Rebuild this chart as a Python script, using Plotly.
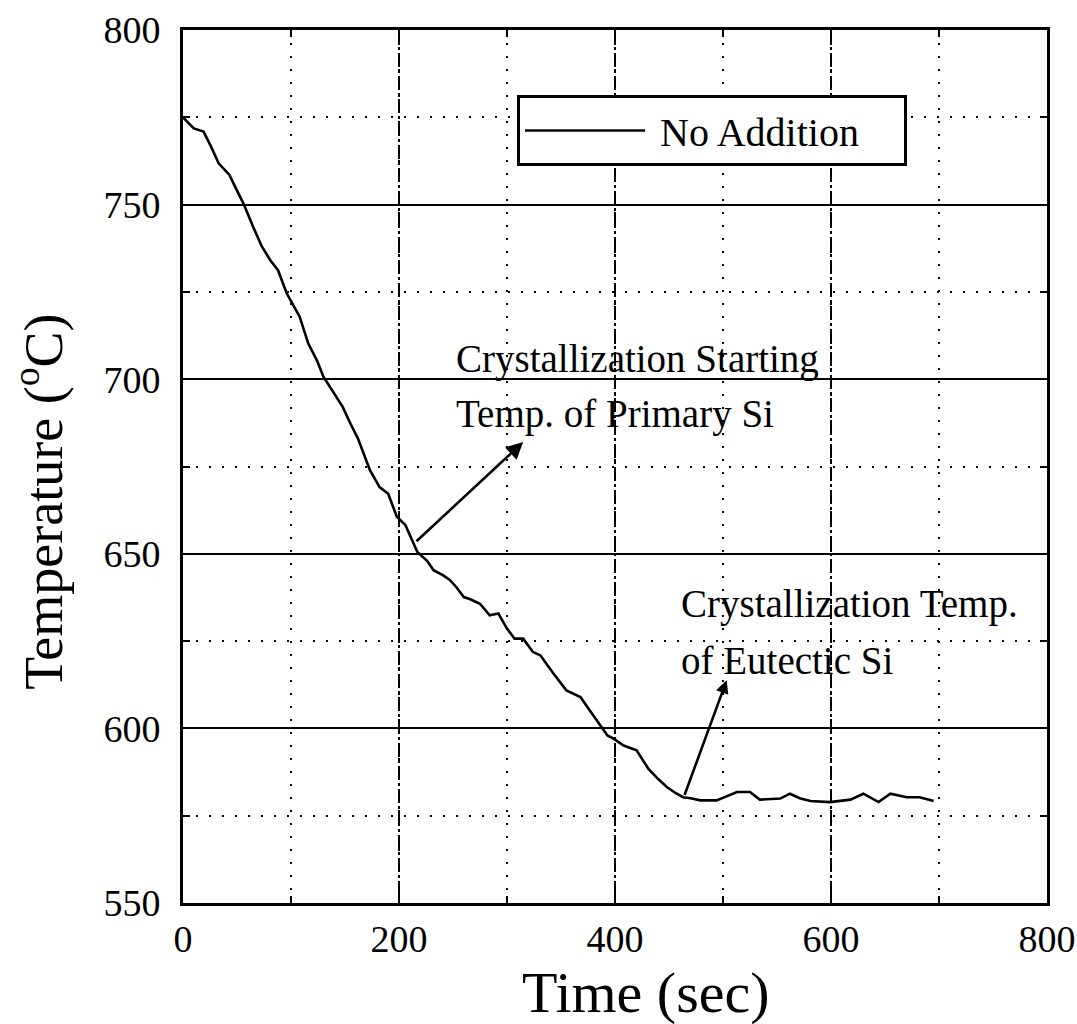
import plotly.graph_objects as go

# Data
time_sec = [0, 5, 10, 19, 26, 33, 43, 50, 56, 65, 73, 81, 88, 96, 108, 116, 124, 130,
            138, 148, 155, 162, 173, 182, 190, 198, 206, 212, 217, 226, 232, 241, 247,
            253, 260, 266, 275, 284, 292, 300, 307, 315, 324, 331, 343, 355, 368, 377,
            386, 393, 399, 408, 420, 431, 440, 448, 456, 463, 470, 479, 494, 503, 513,
            525, 534, 553, 562, 571, 581, 599, 618, 630, 637, 644, 655, 670, 682, 695]
temp_c = [775.0, 773.5, 771.8, 770.9, 766.6, 761.8, 758.5, 754.0, 750.3, 743.6, 738.0,
          734.0, 731.2, 724.6, 717.9, 710.2, 705.4, 700.7, 697.0, 692.0, 687.3, 683.0,
          674.0, 669.1, 667.2, 660.6, 658.2, 654.0, 650.5, 648.0, 645.3, 643.8, 642.5,
          640.5, 637.6, 637.0, 635.7, 632.4, 632.9, 628.6, 625.7, 625.7, 621.9, 620.9,
          615.7, 610.9, 609.0, 605.0, 600.9, 598.0, 597.0, 595.1, 593.7, 588.4, 585.5,
          583.2, 581.5, 580.3, 580.0, 579.4, 579.4, 580.5, 581.8, 581.8, 579.6, 579.9,
          581.3, 580.0, 579.2, 578.9, 579.6, 581.3, 580.0, 578.9, 581.3, 580.3, 580.3,
          579.2]

series_name = "\u00a0No Addition\u00a0\u00a0\u00a0\u00a0"
x_title = "Time (sec)"
y_title = "Temperature (<sup>o</sup>C)"
x_ticks = [0, 200, 400, 600, 800]
y_ticks = [550, 600, 650, 700, 750, 800]

FONT = "Liberation Serif, Times New Roman, serif"

fig = go.Figure()
fig.add_trace(go.Scatter(
    x=time_sec, y=temp_c, mode="lines", name=series_name,
    line=dict(color="black", width=2.6),
))

# Axis titles (placed as paper annotations to match the reference offsets)
fig.add_annotation(x=0.536, y=-0.102, xref="paper", yref="paper", text=x_title,
                   showarrow=False, xanchor="center", yanchor="middle",
                   font=dict(family=FONT, size=58, color="black"))
fig.add_annotation(x=-0.166, y=0.459, xref="paper", yref="paper", text=y_title,
                   showarrow=False, xanchor="center", yanchor="middle", textangle=-90,
                   font=dict(family=FONT, size=54, color="black"))

# Annotation texts (one per line) and arrows
fig.add_annotation(x=251, y=705.7, xref="x", yref="y", text="Crystallization Starting",
                   showarrow=False, xanchor="left", yanchor="middle",
                   font=dict(family=FONT, size=39, color="black"))
fig.add_annotation(x=251, y=690.1, xref="x", yref="y", text="Temp. of Primary Si",
                   showarrow=False, xanchor="left", yanchor="middle",
                   font=dict(family=FONT, size=39, color="black"))
fig.add_annotation(x=459, y=635.6, xref="x", yref="y", text="Crystallization Temp.",
                   showarrow=False, xanchor="left", yanchor="middle",
                   font=dict(family=FONT, size=39, color="black"))
fig.add_annotation(x=459, y=619.4, xref="x", yref="y", text="of Eutectic Si",
                   showarrow=False, xanchor="left", yanchor="middle",
                   font=dict(family=FONT, size=39, color="black"))

fig.add_annotation(x=315, y=682.0, ax=214.8, ay=653.2, xref="x", yref="y",
                   axref="x", ayref="y", text="", showarrow=True,
                   arrowhead=2, arrowsize=1.3, arrowwidth=2.6, arrowcolor="black")
fig.add_annotation(x=503.4, y=613.8, ax=463.9, ay=580.5, xref="x", yref="y",
                   axref="x", ayref="y", text="", showarrow=True,
                   arrowhead=2, arrowsize=1.0, arrowwidth=2.6, arrowcolor="black")

fig.update_xaxes(
    range=[0, 800], tickvals=x_ticks, ticktext=[str(v) for v in x_ticks],
    showline=True, linecolor="black", linewidth=3, mirror="allticks",
    ticks="inside", ticklen=12, tickwidth=2, tickcolor="black",
    showgrid=True, gridcolor="black", gridwidth=1.6, griddash="14px,3px,3px,3px",
    minor=dict(dtick=100, tick0=0, showgrid=True, gridcolor="black", gridwidth=2,
               griddash="2px,11px", ticks="inside", ticklen=7, tickcolor="black"),
    zeroline=False, ticklabelstandoff=0,
    tickfont=dict(family=FONT, size=38, color="black"),
)
fig.update_yaxes(
    range=[550, 800], tickvals=y_ticks, ticktext=[str(v) for v in y_ticks],
    showline=True, linecolor="black", linewidth=3, mirror="allticks",
    ticks="inside", ticklen=12, tickwidth=2, tickcolor="black",
    showgrid=True, gridcolor="black", gridwidth=2,
    minor=dict(dtick=25, tick0=550, showgrid=True, gridcolor="black", gridwidth=2,
               griddash="2px,11px", ticks="inside", ticklen=7, tickcolor="black"),
    zeroline=False, ticklabelstandoff=12,
    tickfont=dict(family=FONT, size=38, color="black"),
)

fig.update_layout(
    width=1077, height=1024,
    margin=dict(l=183, r=30, t=30, b=121, autoexpand=False),
    paper_bgcolor="white", plot_bgcolor="white",
    showlegend=True,
    legend=dict(x=0.3866, y=0.9255, xanchor="left", yanchor="top",
                bgcolor="white", bordercolor="black", borderwidth=3,
                itemwidth=120, tracegroupgap=0,
                font=dict(family=FONT, size=40, color="black")),
)

fig.write_html("out.html")
